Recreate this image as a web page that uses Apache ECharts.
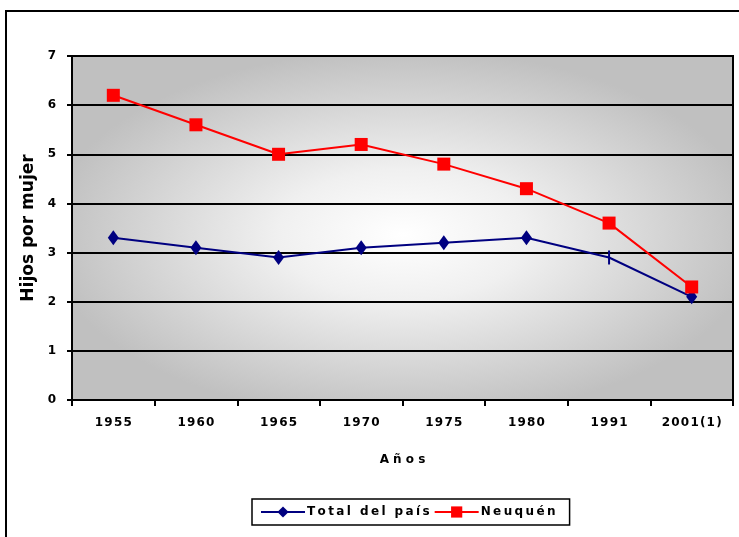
<!DOCTYPE html>
<html>
<head>
<meta charset="utf-8">
<script src="https://cdn.jsdelivr.net/npm/echarts@6/dist/echarts.min.js"></script>
<style>
  html, body { margin: 0; padding: 0; background: #fff; }
  #line-charts { width: 739px; height: 537px; }
</style>
</head>
<body>
<div id="line-charts"></div>
<script>
var years = ['1955', '1960', '1965', '1970', '1975', '1980', '1991', '2001(1)'];
var totalPais = [3.3, 3.1, 2.9, 3.1, 3.2, 3.3, 2.9, 2.1];
var neuquen = [6.2, 5.6, 5.0, 5.2, 4.8, 4.3, 3.6, 2.3];
var yTicks = [0, 1, 2, 3, 4, 5, 6, 7];

// spread letters a bit, like the original
function spaced(s, sep) {
  return s.split('').join(sep);
}

function lineCharts() {
  var myLine = echarts.init(document.getElementById('line-charts'));
  var W = 739, H = 537;
  var gl = 72, gr = 6, gt = 56, gb = 137;
  var pw = W - gl - gr, ph = H - gt - gb;
  var totalData = totalPais.map(function (v, i) {
    // 1991 point is drawn as a small vertical dash in the source
    if (years[i] === '1991') {
      return { value: v, symbol: 'rect', symbolSize: [2, 14] };
    }
    return v;
  });
  var option = {
    animation: false,
    textStyle: { fontFamily: 'DejaVu Sans' },
    graphic: [{
      type: 'rect',
      shape: { x: 6, y: 11, width: 900, height: 700 },
      style: { fill: 'none', stroke: '#000', lineWidth: 2 },
      silent: true
    }, {
      // elliptical gradient behind the plot
      type: 'rect',
      x: gl, y: gt,
      scaleX: pw / ph,
      z: -10,
      shape: { x: 0, y: 0, width: ph, height: ph },
      style: {
        fill: {
          type: 'radial',
          x: 0.5, y: 0.52, r: 0.54,
          colorStops: [
            { offset: 0, color: '#ffffff' },
            { offset: 0.35, color: '#f0f0f0' },
            { offset: 1, color: '#c0c0c0' }
          ]
        }
      },
      silent: true
    }],
    grid: {
      left: gl,
      right: gr,
      top: gt,
      bottom: gb,
      show: true,
      borderColor: '#000',
      borderWidth: 2,
      backgroundColor: 'transparent'
    },
    legend: {
      left: 252,
      top: 499,
      padding: [7, 14, 7, 8],
      itemGap: 4,
      itemWidth: 44,
      itemHeight: 14,
      borderColor: '#000',
      borderWidth: 1.5,
      backgroundColor: '#fff',
      textStyle: { fontWeight: 'bold', fontSize: 12, color: '#000', padding: [0, 0, 0, -3] },
      formatter: function (name) { return spaced(name, '\u2009'); },
      data: ['Total del país', 'Neuquén']
    },
    xAxis: {
      type: 'category',
      boundaryGap: true,
      data: years,
      name: 'A ñ o s',
      nameLocation: 'middle',
      nameGap: 54,
      nameTextStyle: { fontWeight: 'bold', fontSize: 12, color: '#000' },
      axisLine: { lineStyle: { color: '#000', width: 2 } },
      axisTick: { show: true, length: 6, lineStyle: { color: '#000', width: 2 } },
      axisLabel: {
        margin: 17,
        fontWeight: 'bold',
        fontSize: 12,
        color: '#000',
        formatter: function (v) { return spaced(v, '\u200A'); }
      }
    },
    yAxis: {
      type: 'value',
      min: yTicks[0],
      max: yTicks[yTicks.length - 1],
      interval: 1,
      name: 'Hijos por mujer',
      nameLocation: 'middle',
      nameGap: 33,
      nameTextStyle: { fontWeight: 'bold', fontSize: 17, color: '#000' },
      axisLine: { show: true, lineStyle: { color: '#000', width: 2 } },
      axisTick: { show: true, length: 5, lineStyle: { color: '#000', width: 2 } },
      axisLabel: { margin: 16, fontWeight: 'bold', fontSize: 12, color: '#000' },
      splitLine: { lineStyle: { color: '#000', width: 2 } }
    },
    series: [
      {
        name: 'Total del país',
        type: 'line',
        symbol: 'diamond',
        symbolSize: [11, 15],
        itemStyle: { color: '#000080' },
        lineStyle: { color: '#000080', width: 2 },
        data: totalData
      },
      {
        name: 'Neuquén',
        type: 'line',
        symbol: 'rect',
        symbolSize: 13,
        itemStyle: { color: '#ff0000' },
        lineStyle: { color: '#ff0000', width: 2 },
        data: neuquen
      }
    ]
  };
  myLine.setOption(option);
}
lineCharts();
</script>
</body>
</html>
